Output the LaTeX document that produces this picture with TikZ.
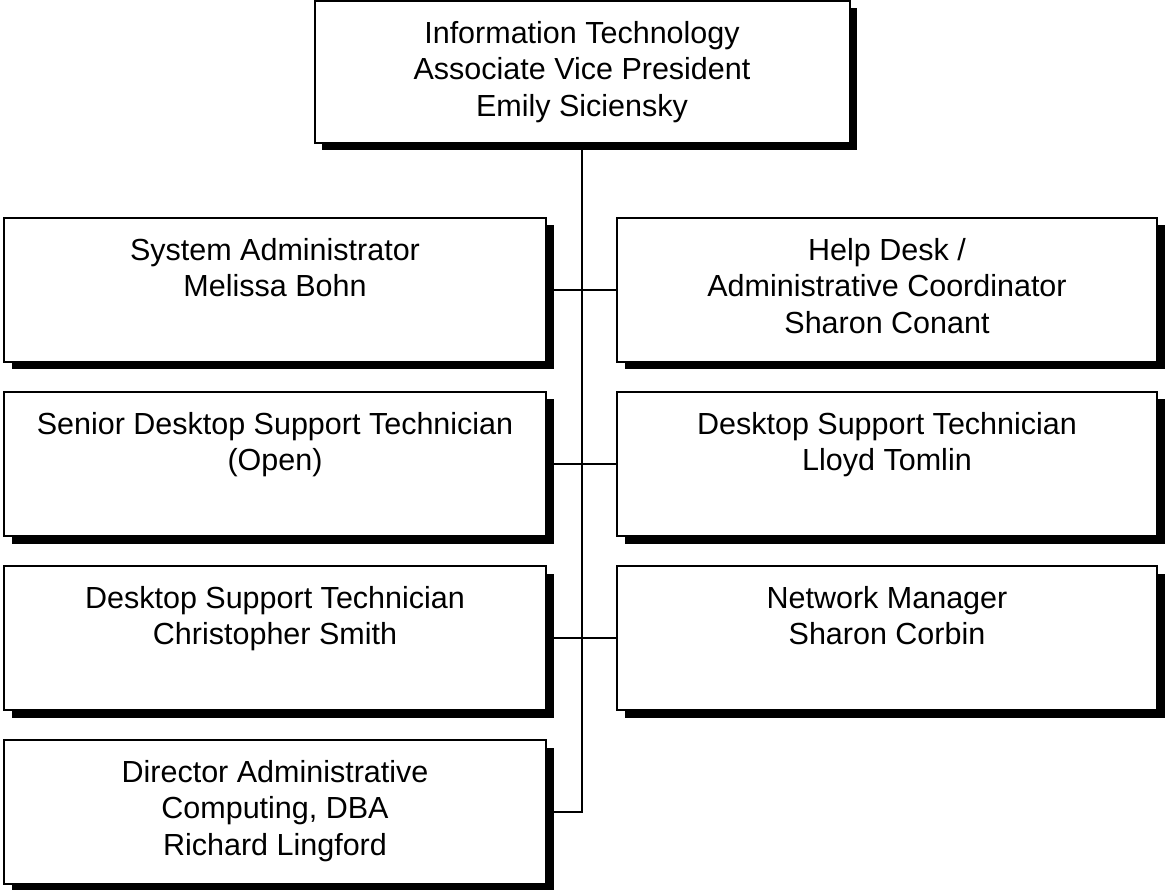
\documentclass[tikz,border=0pt]{standalone}
\usepackage{fontspec}
\setmainfont{Liberation Sans}
\usetikzlibrary{positioning, shadows}

\begin{document}
\begin{tikzpicture}[x=1pt, y=-1pt, font=\fontsize{30.5}{36.5}\selectfont,
  orgbox/.style={draw, line width=2pt, fill=white, minimum width=542pt, minimum height=144pt,
    drop shadow={shadow xshift=7.5pt, shadow yshift=-7.5pt, fill=black, opacity=1}},
  orgtext/.style={align=center, inner sep=0pt},
  link/.style={line width=2.5pt, line cap=rect}]
  \useasboundingbox (0,0) rectangle (1165,890);

  % top of the chart
  \node[orgbox, minimum width=535pt, minimum height=142pt] (avp) at (582,72) {};
  \node[orgtext, below=21pt of avp.north] (avptext) {Information Technology\\Associate Vice President\\Emily Siciensky};

  % left column
  \node[orgbox] (sysadmin) at (275,290) {};
  \node[orgtext, below=21pt of sysadmin.north] (sysadmintext) {System Administrator\\Melissa Bohn};

  \node[orgbox] (seniortech) at (275,464) {};
  \node[orgtext, below=21pt of seniortech.north] (seniortechtext) {Senior Desktop Support Technician\\(Open)};

  \node[orgbox] (techchris) at (275,638) {};
  \node[orgtext, below=21pt of techchris.north] (techchristext) {Desktop Support Technician\\Christopher Smith};

  \node[orgbox] (diradmin) at (275,812) {};
  \node[orgtext, below=21pt of diradmin.north] (diradmintext) {Director Administrative\\Computing, DBA\\Richard Lingford};

  % right column
  \node[orgbox, minimum width=540pt] (helpdesk) at (887,290) {};
  \node[orgtext, below=21pt of helpdesk.north] (helpdesktext) {Help Desk /\\Administrative Coordinator\\Sharon Conant};

  \node[orgbox, minimum width=540pt] (techlloyd) at (887,464) {};
  \node[orgtext, below=21pt of techlloyd.north] (techlloydtext) {Desktop Support Technician\\Lloyd Tomlin};

  \node[orgbox, minimum width=540pt] (netmgr) at (887,638) {};
  \node[orgtext, below=21pt of netmgr.north] (netmgrtext) {Network Manager\\Sharon Corbin};

  % connectors
  \coordinate (trunkend) at (avp.south |- diradmin.east);
  \draw[link] (avp.south) -- (trunkend);
  \foreach \l/\r in {sysadmin/helpdesk, seniortech/techlloyd, techchris/netmgr}
    \draw[link] (\l.east) -- (\r.west);
  \draw[link] (diradmin.east) -- (trunkend);
\end{tikzpicture}
\end{document}
